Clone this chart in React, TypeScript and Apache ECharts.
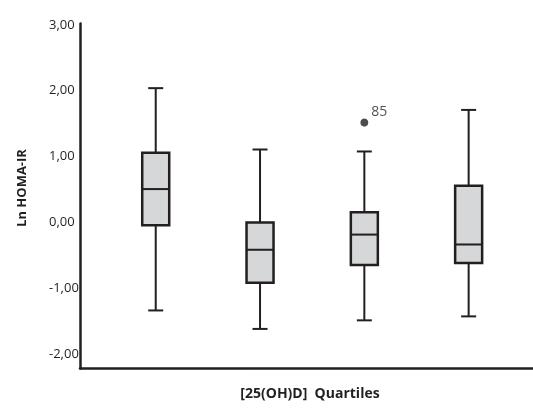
import React, { useEffect, useRef } from "react";
import * as echarts from "echarts";

// Quartile groups (x positions on the value axis)
const groups = [1, 2, 3, 4];
const whiskerLow = [-1.35, -1.63, -1.5, -1.44];
const q1 = [-0.06, -0.93, -0.66, -0.63];
const median = [0.49, -0.43, -0.2, -0.35];
const q3 = [1.04, -0.015, 0.14, 0.54];
const whiskerHigh = [2.02, 1.09, 1.06, 1.69];

const outliers = [[3, 1.5]];
const outlierLabels = ["85"];

const yTicks = [-2, -1, 0, 1, 2, 3];

const INK = "#231f20";
const FONT = "'Open Sans', 'Noto Sans', sans-serif";

export default function App() {
  const ref = useRef<HTMLDivElement>(null);
  useEffect(() => {
    if (!ref.current) return;
    const chart = echarts.init(ref.current, null, { renderer: "svg" });
    const boxData = groups.map((g, i) => [g, whiskerLow[i], q1[i], median[i], q3[i], whiskerHigh[i]]);
    const boxW = 27;
    const capW = 15;
    chart.setOption({
      animation: false,
      grid: { left: 80, right: 0, top: 23.5, bottom: 40.5 },
      xAxis: {
        type: "value",
        min: 0.274,
        max: 4.617,
        axisLine: { show: true, onZero: false, lineStyle: { color: INK, width: 2.5 } },
        axisTick: { show: false },
        axisLabel: { show: false },
        splitLine: { show: false },
      },
      yAxis: {
        type: "value",
        min: -2.23,
        max: 3,
        axisLine: { show: true, onZero: false, lineStyle: { color: INK, width: 2.5 } },
        axisTick: { show: false },
        splitLine: { show: false },
        axisLabel: {
          showMinLabel: false,
          align: "left",
          margin: 31,
          color: INK,
          fontFamily: FONT,
          fontSize: 13,
          formatter: (v: number) => {
            const r = Math.round(v);
            if (Math.abs(v - r) > 1e-6 || yTicks.indexOf(r) < 0) return "";
            return r.toFixed(2).replace(".", ",");
          },
        },
      },
      series: [
        {
          type: "custom",
          data: boxData,
          renderItem: (params: any, api: any) => {
            const x = api.value(0);
            const pLow = api.coord([x, api.value(1)]);
            const pQ1 = api.coord([x, api.value(2)]);
            const pMed = api.coord([x, api.value(3)]);
            const pQ3 = api.coord([x, api.value(4)]);
            const pHigh = api.coord([x, api.value(5)]);
            const cx = pMed[0];
            const ls = { stroke: INK, lineWidth: 2 };
            return {
              type: "group",
              children: [
                { type: "line", shape: { x1: cx, y1: pHigh[1], x2: cx, y2: pQ3[1] }, style: ls },
                { type: "line", shape: { x1: cx, y1: pQ1[1], x2: cx, y2: pLow[1] }, style: ls },
                { type: "line", shape: { x1: cx - capW / 2, y1: pHigh[1], x2: cx + capW / 2, y2: pHigh[1] }, style: ls },
                { type: "line", shape: { x1: cx - capW / 2, y1: pLow[1], x2: cx + capW / 2, y2: pLow[1] }, style: ls },
                {
                  type: "rect",
                  shape: { x: cx - boxW / 2, y: pQ3[1], width: boxW, height: pQ1[1] - pQ3[1] },
                  style: { fill: "#d6d7d9", stroke: INK, lineWidth: 2.5 },
                },
                { type: "line", shape: { x1: cx - boxW / 2, y1: pMed[1], x2: cx + boxW / 2, y2: pMed[1] }, style: { stroke: INK, lineWidth: 2 } },
              ],
            };
          },
        },
        {
          type: "scatter",
          data: outliers,
          symbol: "circle",
          symbolSize: 8,
          itemStyle: { color: INK },
          label: {
            show: true,
            position: "right",
            offset: [0, -12],
            distance: 3,
            color: INK,
            fontFamily: FONT,
            fontSize: 14,
            formatter: (p: any) => outlierLabels[p.dataIndex],
          },
        },
      ],
      graphic: [
        {
          type: "text",
          x: 21,
          y: 188,
          rotation: Math.PI / 2,
          style: {
            text: "Ln HOMA-IR",
            fill: INK,
            font: `bold 13px ${FONT}`,
            textAlign: "center",
            textVerticalAlign: "middle",
          },
        },
        {
          type: "text",
          x: 310,
          y: 392,
          style: {
            text: "[25(OH)D]  Quartiles",
            fill: INK,
            font: `bold 14px ${FONT}`,
            textAlign: "center",
            textVerticalAlign: "middle",
          },
        },
      ],
    });
    return () => chart.dispose();
  }, []);
  return <div ref={ref} style={{ position: "fixed", left: 0, top: 0, width: 533, height: 409 }} />;
}
